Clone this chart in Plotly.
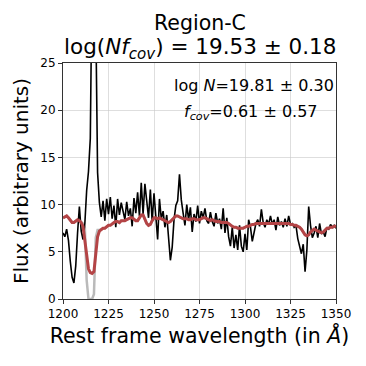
import plotly.graph_objects as go

# rest-frame wavelength grid (Angstrom)
wave = list(range(1200, 1351))

flux = [
    7.0, 6.6, 7.4, 6.2, 4.0, 2.3, 1.7, 3.5, 7.0, 9.8,      # 1200-1209
    7.2, 6.3, 8.0, 11.5, 13.5, 17.0, 35.0, 38.0, 30.0, 13.4,  # 1210-1219
    10.2, 8.7, 10.4, 8.3, 10.6, 9.0, 10.8, 8.5, 9.9, 7.6,   # 1220-1229
    10.6, 8.9, 10.2, 9.2, 8.4, 10.3, 8.8, 9.6, 7.7, 10.7,   # 1230-1239
    9.1, 11.3, 8.8, 12.3, 9.0, 12.2, 10.1, 8.6, 11.6, 8.2,  # 1240-1249
    11.2, 9.0, 6.3, 10.6, 8.5, 9.3, 7.6, 8.9, 6.0, 4.1,     # 1250-1259
    5.5, 8.4, 9.9, 10.4, 13.2, 10.5, 9.1, 7.8, 10.0, 8.4,   # 1260-1269
    9.7, 7.1, 9.0, 8.2, 9.9, 8.0, 9.3, 8.6, 9.6, 8.3,       # 1270-1279
    8.0, 9.2, 8.2, 7.7, 9.1, 8.0, 8.5, 7.4, 9.6, 7.0,       # 1280-1289
    8.6, 6.6, 5.6, 7.6, 5.4, 6.8, 5.2, 7.8, 5.6, 5.0,       # 1290-1299
    6.9, 5.2, 8.4, 7.6, 6.1, 7.2, 8.0, 8.4, 7.7, 9.5,       # 1300-1309
    8.1, 7.6, 8.4, 7.9, 8.8, 7.9, 8.4, 7.3, 8.7, 7.8,       # 1310-1319
    8.2, 7.6, 8.5, 7.7, 8.8, 7.9, 8.0, 7.6, 7.8, 6.4,       # 1320-1329
    5.4, 4.8, 5.8, 2.9, 5.2, 9.8, 7.8, 6.5, 7.0, 7.7,       # 1330-1339
    6.5, 8.0, 6.9, 7.1, 6.6, 7.6, 7.4, 7.9, 7.6, 7.8,       # 1340-1349
    7.5,                                                    # 1350
]

# intrinsic (unconvolved) absorption model
model_raw = [
    8.6, 8.7, 8.8, 8.6, 8.3, 8.1, 8.1, 8.3, 8.4, 8.3,
    8.1, 8.0, 7.6, 2.0, 0.0, 0.0, 0.0, 0.5, 6.5, 7.3,
    7.3, 7.4, 7.5, 7.5, 7.7, 7.8, 7.8, 8.0, 8.1, 8.2,
    8.2, 8.1, 8.3, 8.3, 8.3, 8.4, 8.5, 8.6, 8.6, 8.4,
    8.3, 8.3, 8.6, 8.9, 8.9, 8.5, 8.0, 7.8, 7.9, 8.3,
    8.6, 8.6, 8.5, 8.6, 8.5, 8.4, 8.3, 8.2, 8.1, 8.2,
    8.4, 8.6, 8.8, 8.8, 8.7, 8.6, 8.5, 8.5, 8.5, 8.4,
    8.4, 8.5, 8.5, 8.4, 8.4, 8.4, 8.5, 8.6, 8.6, 8.5,
    8.4, 8.3, 8.4, 8.3, 8.2, 8.2, 8.2, 8.1, 8.1, 8.1,
    8.1, 8.0, 7.8, 7.7, 7.6, 7.6, 7.5, 7.5, 7.5, 7.5,
    7.6, 7.7, 7.7, 7.8, 7.9, 7.9, 8.0, 8.0, 8.0, 8.0,
    8.0, 8.0, 8.0, 8.0, 8.0, 8.0, 8.0, 8.0, 8.0, 8.0,
    8.0, 8.0, 8.0, 8.0, 8.0, 7.9, 7.9, 7.8, 7.8, 7.7,
    7.6, 7.4, 7.1, 6.8, 6.7, 6.8, 7.1, 7.3, 7.4, 7.3,
    7.2, 7.1, 7.0, 7.1, 7.3, 7.5, 7.5, 7.6, 7.6, 7.7,
    7.7,
]

# model convolved with the instrumental LSF
model_conv = [
    8.6, 8.7, 8.8, 8.6, 8.3, 8.1, 8.1, 8.3, 8.4, 8.3,
    8.1, 7.7, 6.3, 4.4, 3.2, 2.8, 2.7, 2.9, 4.8, 6.6,
    7.2, 7.4, 7.5, 7.5, 7.7, 7.8, 7.8, 8.0, 8.1, 8.2,
    8.2, 8.1, 8.3, 8.3, 8.3, 8.4, 8.5, 8.6, 8.6, 8.4,
    8.3, 8.3, 8.6, 8.9, 8.9, 8.5, 8.0, 7.8, 7.9, 8.3,
    8.6, 8.6, 8.5, 8.6, 8.5, 8.4, 8.3, 8.2, 8.1, 8.2,
    8.4, 8.6, 8.8, 8.8, 8.7, 8.6, 8.5, 8.5, 8.5, 8.4,
    8.4, 8.5, 8.5, 8.4, 8.4, 8.4, 8.5, 8.6, 8.6, 8.5,
    8.4, 8.3, 8.4, 8.3, 8.2, 8.2, 8.2, 8.1, 8.1, 8.1,
    8.1, 8.0, 7.8, 7.7, 7.6, 7.6, 7.5, 7.5, 7.5, 7.5,
    7.6, 7.7, 7.7, 7.8, 7.9, 7.9, 8.0, 8.0, 8.0, 8.0,
    8.0, 8.0, 8.0, 8.0, 8.0, 8.0, 8.0, 8.0, 8.0, 8.0,
    8.0, 8.0, 8.0, 8.0, 8.0, 7.9, 7.9, 7.8, 7.8, 7.7,
    7.6, 7.4, 7.1, 6.8, 6.7, 6.8, 7.1, 7.3, 7.4, 7.3,
    7.2, 7.1, 7.0, 7.1, 7.3, 7.5, 7.5, 7.6, 7.6, 7.7,
    7.7,
]

x_ticks = [1200, 1225, 1250, 1275, 1300, 1325, 1350]
y_ticks = [0, 5, 10, 15, 20, 25]

FONT = "DejaVu Sans"

fig = go.Figure()
fig.add_trace(go.Scatter(x=wave, y=model_raw, mode="lines",
                         line=dict(color="rgba(140,140,140,0.6)", width=2.5)))
fig.add_trace(go.Scatter(x=wave, y=flux, mode="lines",
                         line=dict(color="black", width=1.6)))
fig.add_trace(go.Scatter(x=wave, y=model_conv, mode="lines",
                         line=dict(color="rgb(180,68,70)", width=3)))

axis_common = dict(
    showline=True, mirror=True, linecolor="#333333", linewidth=1,
    ticks="outside", ticklen=4, tickcolor="#333333",
    showgrid=True, gridcolor="rgba(200,200,200,0.6)", gridwidth=1,
    zeroline=False, automargin=False,
    tickfont=dict(family=FONT, size=12, color="black"),
)

fig.update_xaxes(range=[1200, 1350], tickvals=x_ticks, **axis_common,
                 title=dict(text="Rest frame wavelength (in <i>Å</i>)",
                            font=dict(family=FONT, size=20.5, color="black"),
                            standoff=8))
fig.update_yaxes(range=[0, 25], tickvals=y_ticks, **axis_common,
                 title=dict(text="Flux (arbitrary units)",
                            font=dict(family=FONT, size=20, color="black"),
                            standoff=6))

# the page body adds an 8px offset, so the figure is drawn 8px smaller
fig.update_layout(
    width=358, height=350,
    margin=dict(l=55, r=30, t=55, b=59),
    plot_bgcolor="white", paper_bgcolor="white",
    showlegend=False,
    annotations=[
        dict(text="Region-C", xref="paper", yref="paper",
             x=0.5, y=1.169, xanchor="center", yanchor="middle", showarrow=False,
             font=dict(family=FONT, size=20.5, color="black")),
        dict(text="log(<i>Nf</i><sub><i>cov</i></sub>) = 19.53 ± 0.18",
             xref="paper", yref="paper",
             x=0.5, y=1.062, xanchor="center", yanchor="middle", showarrow=False,
             font=dict(family=FONT, size=21.5, color="black")),
        dict(text="log <i>N</i>=19.81 ± 0.30", xref="paper", yref="paper",
             x=1.0, y=0.905, xanchor="right", yanchor="middle", showarrow=False,
             font=dict(family=FONT, size=16, color="black")),
        dict(text="<i>f</i><sub><i>cov</i></sub>=0.61 ± 0.57", xref="paper", yref="paper",
             x=0.69, y=0.79, xanchor="center", yanchor="middle", showarrow=False,
             font=dict(family=FONT, size=16, color="black")),
    ],
)

fig.write_html("out.html")
